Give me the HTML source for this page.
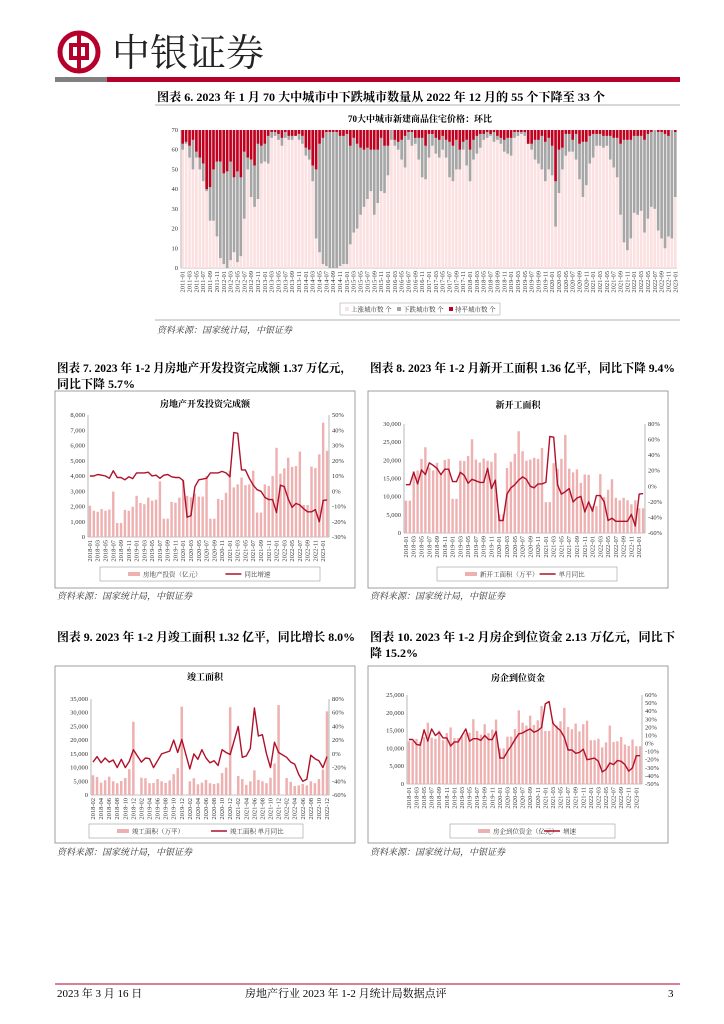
<!DOCTYPE html>
<html><head><meta charset="utf-8">
<style>
body{margin:0;background:#fff;width:724px;height:1024px;overflow:hidden;font-family:"Liberation Serif","Noto Serif CJK SC",serif;}
svg{position:absolute;left:0;top:0}
text{font-family:"Liberation Serif","Noto Serif CJK SC",serif;}
.t{font-size:6.5px;fill:#333}
.cap{font-size:12px;font-weight:bold;fill:#000}
.src{font-size:9px;fill:#333;font-style:italic}
.ct{font-size:9px;font-weight:bold;fill:#000}
</style></head>
<body>
<svg id="pg" width="724" height="1024" viewBox="0 0 724 1024">
  <g>
    <circle cx="79" cy="52" r="19" fill="none" stroke="#b5002b" stroke-width="5"/>
    <rect x="71" y="45" width="16" height="13" fill="none" stroke="#b5002b" stroke-width="4"/>
    <rect x="77" y="33" width="4" height="38" fill="#b5002b"/>
  </g>
  <text x="112" y="66" font-size="38" fill="#222" font-family="'Noto Serif CJK SC',serif">中银证券</text>
  <rect x="55" y="77" width="52" height="5" fill="#808080"/>
  <rect x="107" y="77" width="573" height="5" fill="#b5002b"/>

  <text class="cap" x="157" y="101" textLength="448" lengthAdjust="spacingAndGlyphs">图表 6. 2023 年 1 月 70 大中城市中下跌城市数量从 2022 年 12 月的 55 个下降至 33 个</text>
  <line x1="155" y1="105" x2="680" y2="105" stroke="#999" stroke-width="0.7"/>
  <text class="ct" x="420" y="122" text-anchor="middle">70大中城市新建商品住宅价格：环比</text>
  <line x1="155" y1="320" x2="680" y2="320" stroke="#999" stroke-width="0.7"/>
  <text class="src" x="157" y="333">资料来源：国家统计局，中银证券</text>

  <text class="cap" x="57" y="372" textLength="295" lengthAdjust="spacingAndGlyphs">图表 7. 2023 年 1-2 月房地产开发投资完成额 1.37 万亿元，</text>
  <text class="cap" x="57" y="388">同比下降 5.7%</text>
  <text class="cap" x="370" y="372" textLength="305" lengthAdjust="spacingAndGlyphs">图表 8. 2023 年 1-2 月新开工面积 1.36 亿平，同比下降 9.4%</text>
  <text class="src" x="57" y="599">资料来源：国家统计局，中银证券</text>
  <text class="src" x="370" y="599">资料来源：国家统计局，中银证券</text>

  <text class="cap" x="57" y="641" textLength="298" lengthAdjust="spacingAndGlyphs">图表 9. 2023 年 1-2 月竣工面积 1.32 亿平，同比增长 8.0%</text>
  <text class="cap" x="370" y="641" textLength="305" lengthAdjust="spacingAndGlyphs">图表 10. 2023 年 1-2 月房企到位资金 2.13 万亿元，同比下</text>
  <text class="cap" x="370" y="657">降 15.2%</text>
  <text class="src" x="57" y="855">资料来源：国家统计局，中银证券</text>
  <text class="src" x="370" y="855">资料来源：国家统计局，中银证券</text>

  <line x1="55" y1="984" x2="680" y2="984" stroke="#b5002b" stroke-width="1"/>
  <text x="57" y="997" font-size="11">2023 年 3 月 16 日</text>
  <text x="245" y="997" font-size="11">房地产行业 2023 年 1-2 月统计局数据点评</text>
  <text x="668" y="997" font-size="11">3</text>
</svg>
<script>
// ---------- Figure 6 data ----------
const f6Start = [2011, 1];
const f6Rising = [60,63,56,50,56,50,44,39,24,24,16,5, 2,0,4,8,3,6,25,50,36,31,35,53, 54,53,66,67,65,62,66,65,65,67,65,63, 57,55,44,15,8,2,1,0,0,0,1,2, 2,12,18,20,27,31,35,39,27,33,39,38, 47,65,62,60,55,51,65,62,63,55,46,45, 56,62,58,56,60,56,46,44,50,50,60,52, 44,55,58,61,65,66,67,64,65,63,59,58, 57,66,67,68,67,63,60,55,53,50,44,50, 47,21,38,50,57,59,59,55,45,36,42,53, 56,62,62,61,62,55,51,46,27,13,9,15, 28,27,29,18,25,31,30,19,15,10,16,15, 36];
const f6RisingPlusFalling = [63,64,62,65,59,56,53,40,41,50,54,54, 48,49,54,46,49,46,59,56,55,52,63,62, 63,67,69,69,68,66,69,67,67,67,68,67, 61,60,52,50,63,66,69,69,69,69,67,67, 68,62,66,63,61,60,61,60,60,60,66,62, 62,70,65,64,65,67,69,69,66,66,66,62, 68,68,66,65,67,65,64,62,65,60,64,65, 60,65,67,68,68,69,68,69,67,66,65,66, 66,69,69,69,69,63,63,65,65,67,64,66, 62,44,60,61,68,68,65,68,63,64,64,67, 68,68,68,67,67,67,66,66,63,65,65,65, 67,67,67,65,68,69,70,69,69,68,67,70, 69];
const f6Total = 70;
const f6YTicks = [0,10,20,30,40,50,60,70];
const f6Legend = ['上涨城市数 个','下跌城市数 个','持平城市数 个'];

// ---------- Figure 7 data ----------
const f7Start = [2018, 1];
const f7Bars = [2050,1720,1650,1830,1720,1800,2980,920,920,1780,1720,1980, 2700,2230,2150,2580,2380,2450,3650,1200,1200,2300,2250,2580, 3700,2700,2600,2850,2650,2650,4000,1200,1200,2500,2430,2900, 4350,3250,3450,3900,3400,3450,4350,1600,1600,3450,3350,4000, 5850,4150,4500,5200,4600,4650,5600,2100,2100,4620,4520,5420, 7500,5650];
const f7Line = [10,10,11,10.5,10,8.5,13.5,9,9,7.5,9.5,8.3, 12,12,12,12.5,10,10.5,8.5,10.5,11,9.5,9,9, 7,-17,-16,3,7.5,8,8.5,12,12,12,13,12, 9.5,38.5,38,14,14,8.5,4,1,0,-4,-5.5,-5.5, -14,4,3,-5,-10.5,-8,-9,-11.5,-13.5,-13.5,-12,-20, -6,-5.7];
const f7LeftTicks = [0,1000,2000,3000,4000,5000,6000,7000,8000];
const f7RightTicks = [-30,-20,-10,0,10,20,30,40,50];

// ---------- Figure 8 data ----------
const f8Start = [2018, 1];
const f8Bars = [8900,8900,17000,17200,20400,23600,18000,17200,19300,16500,20100,20400, 9400,9400,19900,19800,21200,25800,20200,19400,20500,19900,19600,22000, 5100,5100,17900,19600,21800,28000,22500,19900,20200,20700,20400,23400, 8500,8500,19200,17700,20400,27000,17700,16700,17500,13800,16100,16000, 7400,7400,16200,9900,11900,14800,9700,9000,9700,9000,7900,9000, 6800,6800];
const f8Line = [2,2,18,3,21,15,30,27,23,15,22,22, 6,6,18,14,4,9,7,5,5,23,-3,8, -44,-44,-10,-2,2,8,12,9,0,-2,3,3, 5,64,63,2,-10,-7,-3,-20,-15,-13,-33,-20, -32,-12,-12,-20,-44,-41,-45,-45,-45,-45,-36,-51, -10,-9.4];
const f8LeftTicks = [0,5000,10000,15000,20000,25000,30000];
const f8RightTicks = [-60,-40,-20,0,20,40,60,80];

// ---------- Figure 9 data ----------
const f9Start = [2018, 2];
const f9Bars = [7200,6600,4500,5400,6700,5000,4300,5100,6200,9400,26700, null, 6300,6100,4300,4400,5800,5000,4400,5300,7600,9800,32200, null, 5000,6100,3900,4500,5500,4300,4000,4300,8000,10000,32000, null, 6900,5800,3700,5000,9000,5500,5000,4300,6300,11500,32800, null, 6200,4800,3300,3500,4000,3500,5000,4300,5800,9300,30500];
const f9Line = [-12,-4,-13,-6,-12,-9,-20,-8,-20,-11,6, null, -12,-6,-7,-20,-10,0,2,4,20,2,21, null, -22,0,-8,6,-6,-13,-10,-17,6,2,-1, null, 40,-5,-3,8,67,26,28,0,-20,17,2, null, -5,-12,-15,-30,-40,-37,-2,-7,-10,-20,-4];
const f9LeftTicks = [0,5000,10000,15000,20000,25000,30000,35000];
const f9RightTicks = [-60,-40,-20,0,20,40,60,80];

// ---------- Figure 10 data ----------
const f10Start = [2018, 1];
const f10Bars = [12000,12000,12700,11800,13200,17200,13000,12700,15000,12300,14300,15900, 12900,12900,13400,14300,14400,18200,14900,13900,16800,14300,15300,18100, 10000,10000,13300,13300,15400,20700,17200,16400,19200,16600,17900,21900, 14900,14900,17600,16400,17600,21400,16000,15400,17000,14800,16800,17800, 12300,12300,12700,10300,11700,16400,11800,12000,13200,11100,10700,12500, 10600,10600];
const f10Line = [5,5,-1,-2,17,3,18,10,14,7,7,-3, 2,2,10,18,3,6,6,4,10,5,5,15, -18,-18,-10,-3,5,12,13,16,18,14,16,20, 49,52,25,20,16,8,-8,-8,-12,-11,-7,-20, -19,-18,-22,-35,-32,-24,-26,-21,-22,-26,-34,-30, -15,-15];
const f10LeftTicks = [0,5000,10000,15000,20000,25000];
const f10RightTicks = [-50,-40,-30,-20,-10,0,10,20,30,40,50,60];

const NS = 'http://www.w3.org/2000/svg';
const pg = document.getElementById('pg');
function mk(tag, attrs, parent){ const e=document.createElementNS(NS,tag); for(const k in attrs) e.setAttribute(k,attrs[k]); (parent||pg).appendChild(e); return e; }
function months(start, n){ const r=[]; let y=start[0], m=start[1]; for(let i=0;i<n;i++){ r.push(y+'-'+String(m).padStart(2,'0')); m++; if(m>12){m=1;y++;} } return r; }
function fmt(v){ return v.toLocaleString('en-US'); }

// ---------- Figure 6 ----------
(function(){
  const cats = months(f6Start, f6Rising.length);
  const x0=181, x1=677, yT=130, yB=268;
  const g = mk('g',{});
  
  
  const band=(x1-x0)/cats.length, bw=band*0.78;
  const ys = v => yB-(v/f6Total)*(yB-yT);
  mk('line',{x1:x0,y1:yT,x2:x0,y2:yB,stroke:'#888','stroke-width':0.6},g);
  mk('line',{x1:x0,y1:yB,x2:x1,y2:yB,stroke:'#888','stroke-width':0.6},g);
  f6YTicks.forEach(t=>{
    const tx=mk('text',{x:x0-3,y:ys(t)+2,'text-anchor':'end',class:'t'},g); tx.textContent=t;
    
    
  });
  cats.forEach((c,i)=>{
    const bx=x0+i*band+(band-bw)/2;
    const r=mk('rect',{x:bx,y:ys(f6Rising[i]),width:bw,height:yB-ys(f6Rising[i]),fill:'#fbe1e1'},g);
    
    
    const f=mk('rect',{x:bx,y:ys(f6RisingPlusFalling[i]),width:bw,height:ys(f6Rising[i])-ys(f6RisingPlusFalling[i]),fill:'#a6a6a6'},g);
    
    
    const h=mk('rect',{x:bx,y:ys(f6Total),width:bw,height:ys(f6RisingPlusFalling[i])-ys(f6Total),fill:'#c0001f'},g);
    
    
    if(i%2===0){
      const cx=x0+i*band+band/2;
      const tx=mk('text',{x:0,y:0,class:'t','text-anchor':'end',transform:`translate(${cx+2},${yB+3}) rotate(-90)`,'font-size':'6'},g);
      tx.textContent=c;
      
      
    }
  });
  const lg=mk('g',{},g);
  
  
  mk('rect',{x:340,y:303,width:160,height:12,fill:'#fff',stroke:'#999','stroke-width':0.5},lg);
  const cols=['#fbe1e1','#a6a6a6','#c0001f'];
  f6Legend.forEach((s,i)=>{
    const lx=345+i*52;
    mk('rect',{x:lx,y:307,width:4,height:4,fill:cols[i]},lg);
    const tx=mk('text',{x:lx+6,y:311.5,class:'t','font-size':'5.5'},lg); tx.textContent=s;
    
    
  });
})();

// ---------- combo chart ----------
function combo(c){
  const g=mk('g',{});
  
  
  mk('rect',{x:c.bx0,y:c.by0,width:c.bx1-c.bx0,height:c.by1-c.by0,fill:'none',stroke:'#888','stroke-width':0.8},g);
  const tt=mk('text',{x:(c.bx0+c.bx1)/2,y:c.titleY,'text-anchor':'middle',class:'ct'},g); tt.textContent=c.title;
  
  
  const n=c.bars.length, band=(c.x1-c.x0)/n, bw=band*0.62;
  const lMax=c.lt[c.lt.length-1], rMin=c.rt[0], rMax=c.rt[c.rt.length-1];
  const yl=v=>c.yB-(v/lMax)*(c.yB-c.yT);
  const yr=v=>c.yB-((v-rMin)/(rMax-rMin))*(c.yB-c.yT);
  mk('line',{x1:c.x0,y1:c.yT,x2:c.x0,y2:c.yB,stroke:'#888','stroke-width':0.6},g);
  mk('line',{x1:c.x1,y1:c.yT,x2:c.x1,y2:c.yB,stroke:'#888','stroke-width':0.6},g);
  mk('line',{x1:c.x0,y1:c.yB,x2:c.x1,y2:c.yB,stroke:'#888','stroke-width':0.6},g);
  c.lt.forEach(t=>{ const tx=mk('text',{x:c.x0-3,y:yl(t)+2,'text-anchor':'end',class:'t'},g); tx.textContent=fmt(t);
    
     });
  c.rt.forEach(t=>{ const tx=mk('text',{x:c.x1+3,y:yr(t)+2,class:'t','font-size':'6'},g); tx.textContent=t+'%';
    
     });
  const cats=months(c.start,n);
  let pts=[];
  cats.forEach((m,i)=>{
    const cx=c.x0+i*band+band/2;
    if(c.bars[i]!=null){
      const r=mk('rect',{x:cx-bw/2,y:yl(c.bars[i]),width:bw,height:c.yB-yl(c.bars[i]),fill:'#eeb0b0'},g);
      
      
    }
    if(c.line[i]!=null) pts.push(cx.toFixed(1)+','+yr(c.line[i]).toFixed(1));
    if(i%2===0){
      const tx=mk('text',{x:0,y:0,class:'t','text-anchor':'end','font-size':'6',transform:`translate(${cx+2},${c.yB+3}) rotate(-90)`},g);
      tx.textContent=m;
      
      
    }
  });
  const pl=mk('polyline',{points:pts.join(' '),fill:'none',stroke:'#b0102a','stroke-width':1.4,'stroke-linejoin':'round'},g);
  
  
  const lg=mk('g',{},g);
  
  
  mk('rect',{x:c.lx,y:c.ly,width:c.lw,height:14,fill:'#fff',stroke:'#888','stroke-width':0.5},lg);
  mk('rect',{x:c.lx+28,y:c.ly+5,width:12,height:4,fill:'#eeb0b0'},lg);
  const t1=mk('text',{x:c.lx+43,y:c.ly+9.5,class:'t','font-size':'6'},lg); t1.textContent=c.leg1;
  
  
  const lx2=c.lx+c.lw*0.57;
  mk('line',{x1:lx2,y1:c.ly+7,x2:lx2+16,y2:c.ly+7,stroke:'#b0102a','stroke-width':1.5},lg);
  const t2=mk('text',{x:lx2+19,y:c.ly+9.5,class:'t','font-size':'6'},lg); t2.textContent=c.leg2;
  
  
}
combo({name:'figure7-chart',title:'房地产开发投资完成额',bx0:55,by0:391,bx1:355,by1:588,titleY:407,x0:88,x1:329,yT:415,yB:537,start:f7Start,bars:f7Bars,line:f7Line,lt:f7LeftTicks,rt:f7RightTicks,lx:100,ly:567,lw:220,leg1:'房地产投资（亿元）',leg2:'同比增速'});
combo({name:'figure8-chart',title:'新开工面积',bx0:368,by0:391,bx1:668,by1:588,titleY:408,x0:404,x1:645,yT:424,yB:533,start:f8Start,bars:f8Bars,line:f8Line,lt:f8LeftTicks,rt:f8RightTicks,lx:437,ly:567,lw:180,leg1:'新开工面积（万平）',leg2:'单月同比'});
combo({name:'figure9-chart',title:'竣工面积',bx0:55,by0:666,bx1:355,by1:843,titleY:680,x0:91,x1:329,yT:699,yB:795,start:f9Start,bars:f9Bars,line:f9Line,lt:f9LeftTicks,rt:f9RightTicks,lx:89,ly:824,lw:214,leg1:'竣工面积（万平）',leg2:'竣工面积 单月同比'});
combo({name:'figure10-chart',title:'房企到位资金',bx0:368,by0:666,bx1:668,by1:843,titleY:681,x0:407,x1:642,yT:695,yB:784,start:f10Start,bars:f10Bars,line:f10Line,lt:f10LeftTicks,rt:f10RightTicks,lx:450,ly:824,lw:165,leg1:'房企到位资金（亿元）',leg2:'增速'});
</script>
</body></html>
